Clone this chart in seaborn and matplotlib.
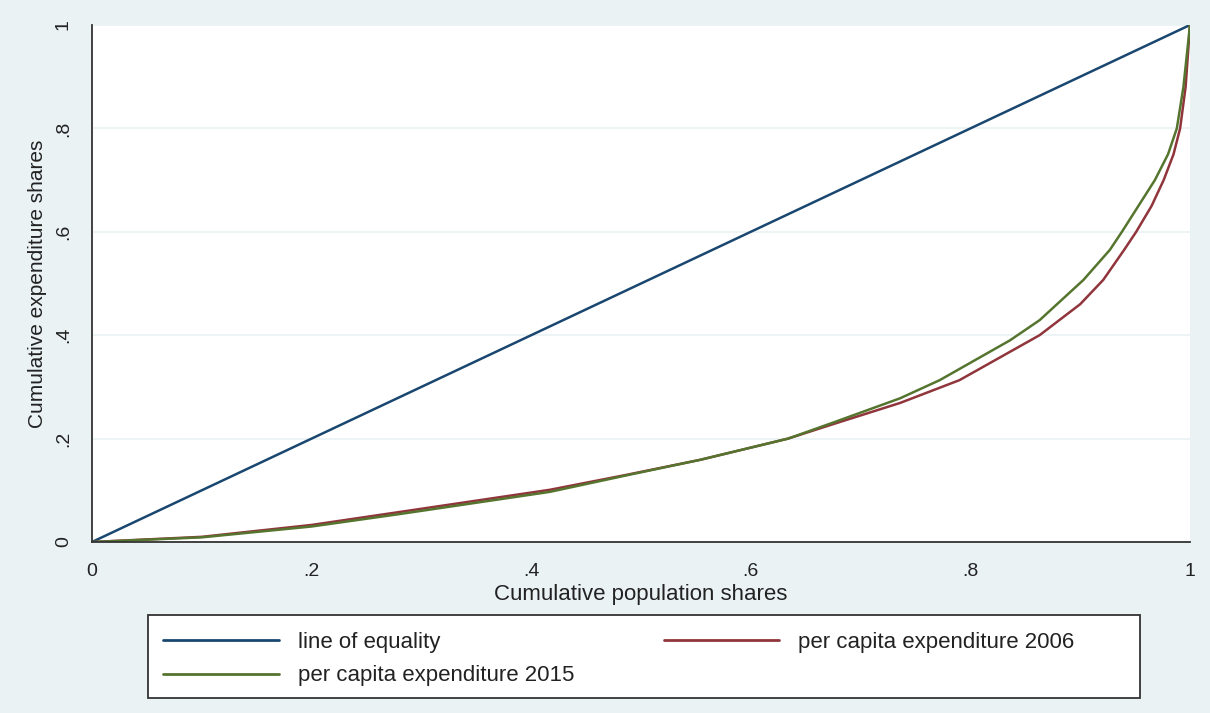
import numpy as np
import pandas as pd
import matplotlib
matplotlib.use("Agg")
import matplotlib.pyplot as plt
from matplotlib.patches import Rectangle
import seaborn as sns

# Lorenz curve points: cumulative population share vs cumulative expenditure share
pop_2006 = [0, 0.1, 0.2, 0.28, 0.417, 0.487, 0.554, 0.634, 0.675, 0.736, 0.79, 0.863,
            0.9, 0.921, 0.94, 0.951, 0.965, 0.976, 0.985, 0.991, 0.996, 1.0]
exp_2006 = [0, 0.010, 0.033, 0.058, 0.101, 0.130, 0.159, 0.200, 0.228, 0.269, 0.313, 0.400,
            0.46, 0.507, 0.565, 0.60, 0.65, 0.70, 0.75, 0.80, 0.88, 1.0]

pop_2015 = [0, 0.1, 0.2, 0.28, 0.417, 0.487, 0.554, 0.634, 0.675, 0.736, 0.772, 0.836,
            0.863, 0.903, 0.927, 0.938, 0.953, 0.968, 0.98, 0.988, 0.994, 1.0]
exp_2015 = [0, 0.009, 0.030, 0.054, 0.097, 0.129, 0.159, 0.200, 0.231, 0.278, 0.313, 0.39,
            0.429, 0.507, 0.565, 0.60, 0.65, 0.70, 0.75, 0.80, 0.88, 1.0]

equality = [0, 1]

ticks = [0, 0.2, 0.4, 0.6, 0.8, 1.0]
tick_labels = ["0", ".2", ".4", ".6", ".8", "1"]

names = ["line of equality", "per capita expenditure 2006", "per capita expenditure 2015"]
colors = ["#1a476f", "#90353b", "#55752f"]

df = pd.concat([
    pd.DataFrame({"x": equality, "y": equality, "series": names[0]}),
    pd.DataFrame({"x": pop_2006, "y": exp_2006, "series": names[1]}),
    pd.DataFrame({"x": pop_2015, "y": exp_2015, "series": names[2]}),
], ignore_index=True)

sns.set_theme(style="white")
plt.rcParams["font.family"] = ["Liberation Sans", "DejaVu Sans"]

bg = "#eaf2f3"
W, H = 1210, 713
fig = plt.figure(figsize=(W / 100, H / 100), dpi=100, facecolor=bg)
ax = fig.add_axes([92 / W, 1 - 542 / H, (1190 - 92) / W, (542 - 25) / H])
ax.set_facecolor("white")

for name, col in zip(names, colors):
    sub = df[df["series"] == name]
    sns.lineplot(data=sub, x="x", y="y", ax=ax, color=col, lw=1.8,
                 sort=False, estimator=None, legend=False)

ax.set_xlim(0, 1)
ax.set_ylim(0, 1)
ax.set_xticks(ticks)
ax.set_xticklabels(tick_labels)
ax.set_yticks(ticks)
ax.set_yticklabels(tick_labels, rotation=90, va="center")
ax.tick_params(axis="x", direction="out", length=6, width=1.2, color="#333333",
               labelsize=14, labelcolor="#222222", pad=9)
ax.tick_params(axis="y", direction="out", length=8.5, width=1.2, color="#333333",
               labelsize=14, labelcolor="#222222", pad=6)
ax.grid(axis="y", color=bg, lw=1.2)
ax.set_axisbelow(True)
for s in ["top", "right"]:
    ax.spines[s].set_visible(False)
for s in ["left", "bottom"]:
    ax.spines[s].set_color("#333333")
    ax.spines[s].set_linewidth(1.3)

ax.set_xlabel("Cumulative population shares", fontsize=16, color="#222222", labelpad=3)
ax.set_ylabel("Cumulative expenditure shares", fontsize=15, color="#222222", labelpad=6)

# legend box
fig.patches.append(Rectangle((148 / W, 1 - 698 / H), (1140 - 148) / W, (698 - 615) / H,
                             transform=fig.transFigure, facecolor="white",
                             edgecolor="#333333", lw=1.3, zorder=0))

handles = [plt.Line2D([], [], color=c, lw=2) for c in colors]
order = [0, 2, 1]
leg = fig.legend([handles[i] for i in order], [names[i] for i in order],
                 ncol=2, loc="upper left", bbox_to_anchor=(152 / W, 1 - 621 / H),
                 fontsize=16, handlelength=5.2, handletextpad=0.85,
                 borderpad=0, labelspacing=0.55, columnspacing=4.05,
                 frameon=False, labelcolor="#222222")

fig.savefig("out.png", dpi=100, facecolor=bg)
